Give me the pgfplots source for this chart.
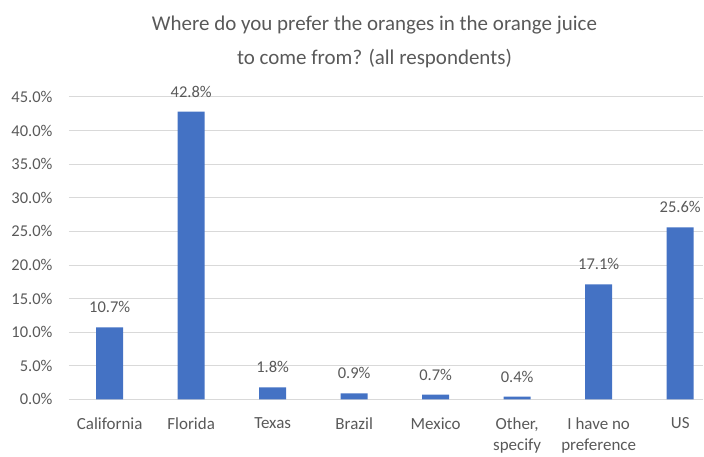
\documentclass[border=0pt]{standalone}
\usepackage{pgfplots}
\pgfplotsset{compat=1.18}
\usepackage{fontspec}
\setmainfont{Carlito}
\definecolor{barblue}{HTML}{4472C4}
\definecolor{txtgray}{HTML}{595959}
\definecolor{gridgray}{HTML}{D9D9D9}
\begin{document}
\begin{tikzpicture}
\begin{axis}[
  scale only axis,
  width=635bp, height=303bp,
  xmin=-0.5, xmax=7.28,
  ymin=0, ymax=45,
  ytick={0,5,...,45},
  xtick={0,...,7},
  xticklabels={California,Florida,Texas,Brazil,Mexico,{Other,\\specify},{I have no\\preference},US},
  xticklabel style={align=center, anchor=north, text=txtgray, font=\fontsize{17bp}{21bp}\selectfont},
  yticklabel style={text=txtgray, font=\fontsize{16.5bp}{20bp}\selectfont},
  /pgf/number format/assume math mode=true,
  yticklabel={\pgfmathprintnumber[fixed,fixed zerofill,precision=1]{\tick}\%},
  ymajorgrids, major grid style={gridgray, line width=0.8bp},
  axis line style={draw=none},
  axis x line*=bottom,
  axis y line*=left,
  x axis line style={draw=gridgray, line width=0.8bp},
  major tick length=0pt,
  tick style={draw=none},
  xticklabel shift=15bp,
  yticklabel shift=13bp,
  clip=false,
]
\addplot[ybar, bar width=27bp, fill=barblue, draw=none,
  nodes near coords={\pgfmathprintnumber[fixed,fixed zerofill,precision=1]{\pgfplotspointmeta}\%},
  nodes near coords style={text=txtgray, font=\fontsize{16.5bp}{20bp}\selectfont, anchor=south, yshift=11bp}
] coordinates {(0,10.7) (1,42.8) (2,1.8) (3,0.9) (4,0.7) (5,0.4) (6,17.1) (7,25.6)};
\node[align=center, text=txtgray, font=\fontsize{21bp}{34bp}\selectfont] at ([xshift=306bp,yshift=55bp]rel axis cs:0,1) {Where do you prefer the oranges in the orange juice\\to come from? (all respondents)};
\useasboundingbox ([xshift=-69bp,yshift=-53bp]rel axis cs:0,0) rectangle ([yshift=97bp]rel axis cs:1,1);
\end{axis}
\end{tikzpicture}
\end{document}
